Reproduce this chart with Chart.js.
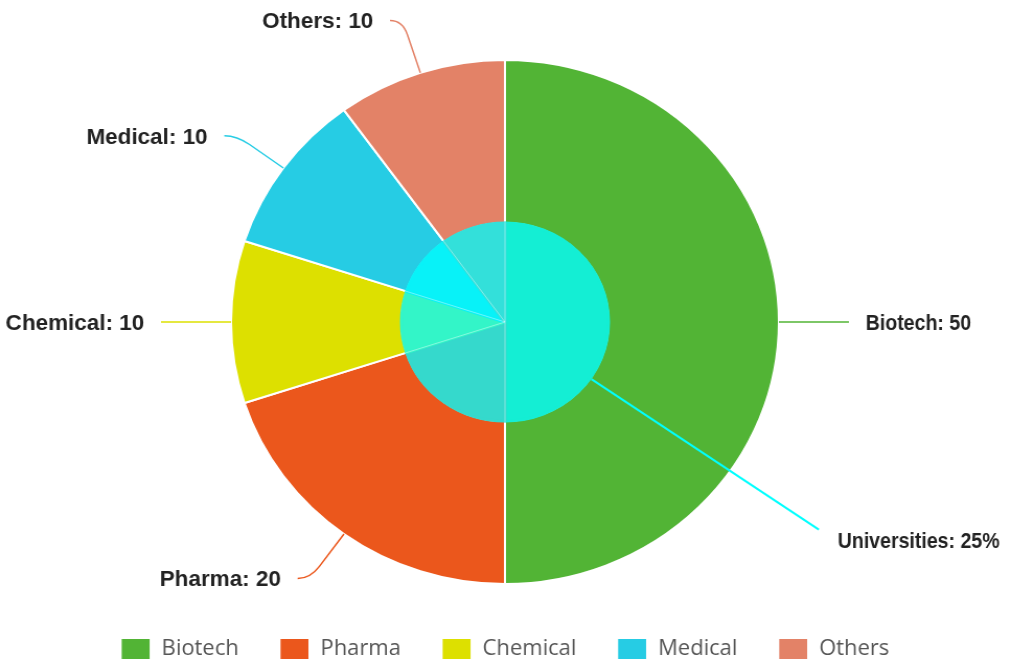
<!DOCTYPE html>
<html>
<head>
<meta charset="utf-8">
<script src="https://cdn.jsdelivr.net/npm/chart.js@4.4.0/dist/chart.umd.min.js"></script>
<style>
    html, body { margin: 0; padding: 0; background: #fff; overflow: hidden; }
    #wrap { position: relative; width: 966px; height: 659px; transform: scaleX(1.0455); transform-origin: 0 0; }
</style>
</head>
<body>
<div id="wrap"><canvas id="chart"></canvas></div>
<script>
    'use strict';

    var categories = ['Biotech', 'Pharma', 'Chemical', 'Medical', 'Others'];
    var values = [50, 20, 10, 10, 10];
    var outerColors = ['#52b435', '#eb571c', '#dde000', '#26cce4', '#e38267'];
    var innerColors = ['#14eed4', '#35d9cc', '#33f5c8', '#08f2f8', '#33e0da'];
    var innerLabel = 'Universities';
    var innerPercent = 25;

    var labelFont = 'bold 21.5px "Liberation Sans", Arial, sans-serif';

    // labels on the right side come out narrower in the original
    function drawLabel(ctx, text, x, y, side) {
        ctx.save();
        ctx.translate(x, y);
        if (side > 0) ctx.scale(0.87, 1);
        ctx.textAlign = side > 0 ? 'left' : 'right';
        ctx.fillText(text, 0, 0);
        ctx.restore();
    }

    // leader lines + labels
    var sliceLabels = {
        id: 'sliceLabels',
        afterDatasetsDraw: function (chart) {
            var ctx = chart.ctx;
            ctx.save();

            // faint separators inside the inner pie
            chart.getDatasetMeta(1).data.forEach(function (arc) {
                var p = arc.getProps(['x', 'y', 'startAngle', 'outerRadius'], true);
                ctx.strokeStyle = 'rgba(255, 255, 255, 0.4)';
                ctx.lineWidth = 1;
                ctx.beginPath();
                ctx.moveTo(p.x, p.y);
                ctx.lineTo(p.x + Math.cos(p.startAngle) * (p.outerRadius + 1), p.y + Math.sin(p.startAngle) * (p.outerRadius + 1));
                ctx.stroke();
            });

            ctx.font = labelFont;
            ctx.textBaseline = 'middle';
            chart.getDatasetMeta(0).data.forEach(function (arc, i) {
                var p = arc.getProps(['x', 'y', 'startAngle', 'endAngle', 'outerRadius'], true);
                var mid = (p.startAngle + p.endAngle) / 2;
                var cos = Math.cos(mid), sin = Math.sin(mid);
                var side = cos >= -0.001 ? 1 : -1;
                var r = p.outerRadius;
                var x0 = p.x + cos * r, y0 = p.y + sin * r;
                var xa = p.x + cos * (r + 40), ya = p.y + sin * (r + 40);
                var xc = p.x + cos * (r + 55), yc = p.y + sin * (r + 55);
                var xe = xc + side * 12, ye = yc;
                ctx.strokeStyle = outerColors[i];
                ctx.lineWidth = 1.5;
                ctx.beginPath();
                ctx.moveTo(x0, y0);
                ctx.lineTo(xa, ya);
                ctx.quadraticCurveTo(xc, yc, xe, ye);
                ctx.stroke();
                ctx.fillStyle = '#222';
                drawLabel(ctx, categories[i] + ': ' + values[i], xe + side * 16, ye + 2, side);
            });

            // inner ring callout
            var inner = chart.getDatasetMeta(1).data[0];
            var q = inner.getProps(['x', 'y', 'outerRadius'], true);
            var ang = 0.605;
            var sx = q.x + Math.cos(ang) * (q.outerRadius + 1.5), sy = q.y + Math.sin(ang) * (q.outerRadius + 1.5);
            var ex = q.x + Math.cos(ang) * 365, ey = q.y + Math.sin(ang) * 365;
            ctx.strokeStyle = '#00ffff';
            ctx.lineWidth = 2;
            ctx.beginPath();
            ctx.moveTo(sx, sy);
            ctx.lineTo(ex, ey);
            ctx.stroke();
            ctx.fillStyle = '#222';
            drawLabel(ctx, innerLabel + ': ' + innerPercent + '%', ex + 18, ey + 12, 1);
            ctx.restore();
        }
    };

    var ctx = document.getElementById('chart').getContext('2d');
    var myChart = new Chart(ctx, {
        type: 'pie',
        data: {
            labels: categories,
            datasets: [{
                data: values,
                backgroundColor: outerColors,
                borderColor: '#ffffff',
                borderWidth: 2,
                weight: 163,
                order: 1
            }, {
                data: values,
                backgroundColor: innerColors,
                borderColor: innerColors,
                borderWidth: 3,
                weight: 99,
                order: 0
            }]
        },
        options: {
            responsive: true,
            maintainAspectRatio: false,
            animation: false,
            radius: 262,
            layout: {
                padding: { top: 45, bottom: -11, left: 0, right: 0 }
            },
            plugins: {
                tooltip: { enabled: false },
                legend: {
                    position: 'bottom',
                    labels: {
                        boxWidth: 28.7,
                        boxHeight: 22,
                        padding: 39,
                        color: '#555',
                        font: { family: '"Open Sans", sans-serif', size: 21 }
                    }
                }
            }
        },
        plugins: [sliceLabels]
    });
</script>
</body>
</html>
